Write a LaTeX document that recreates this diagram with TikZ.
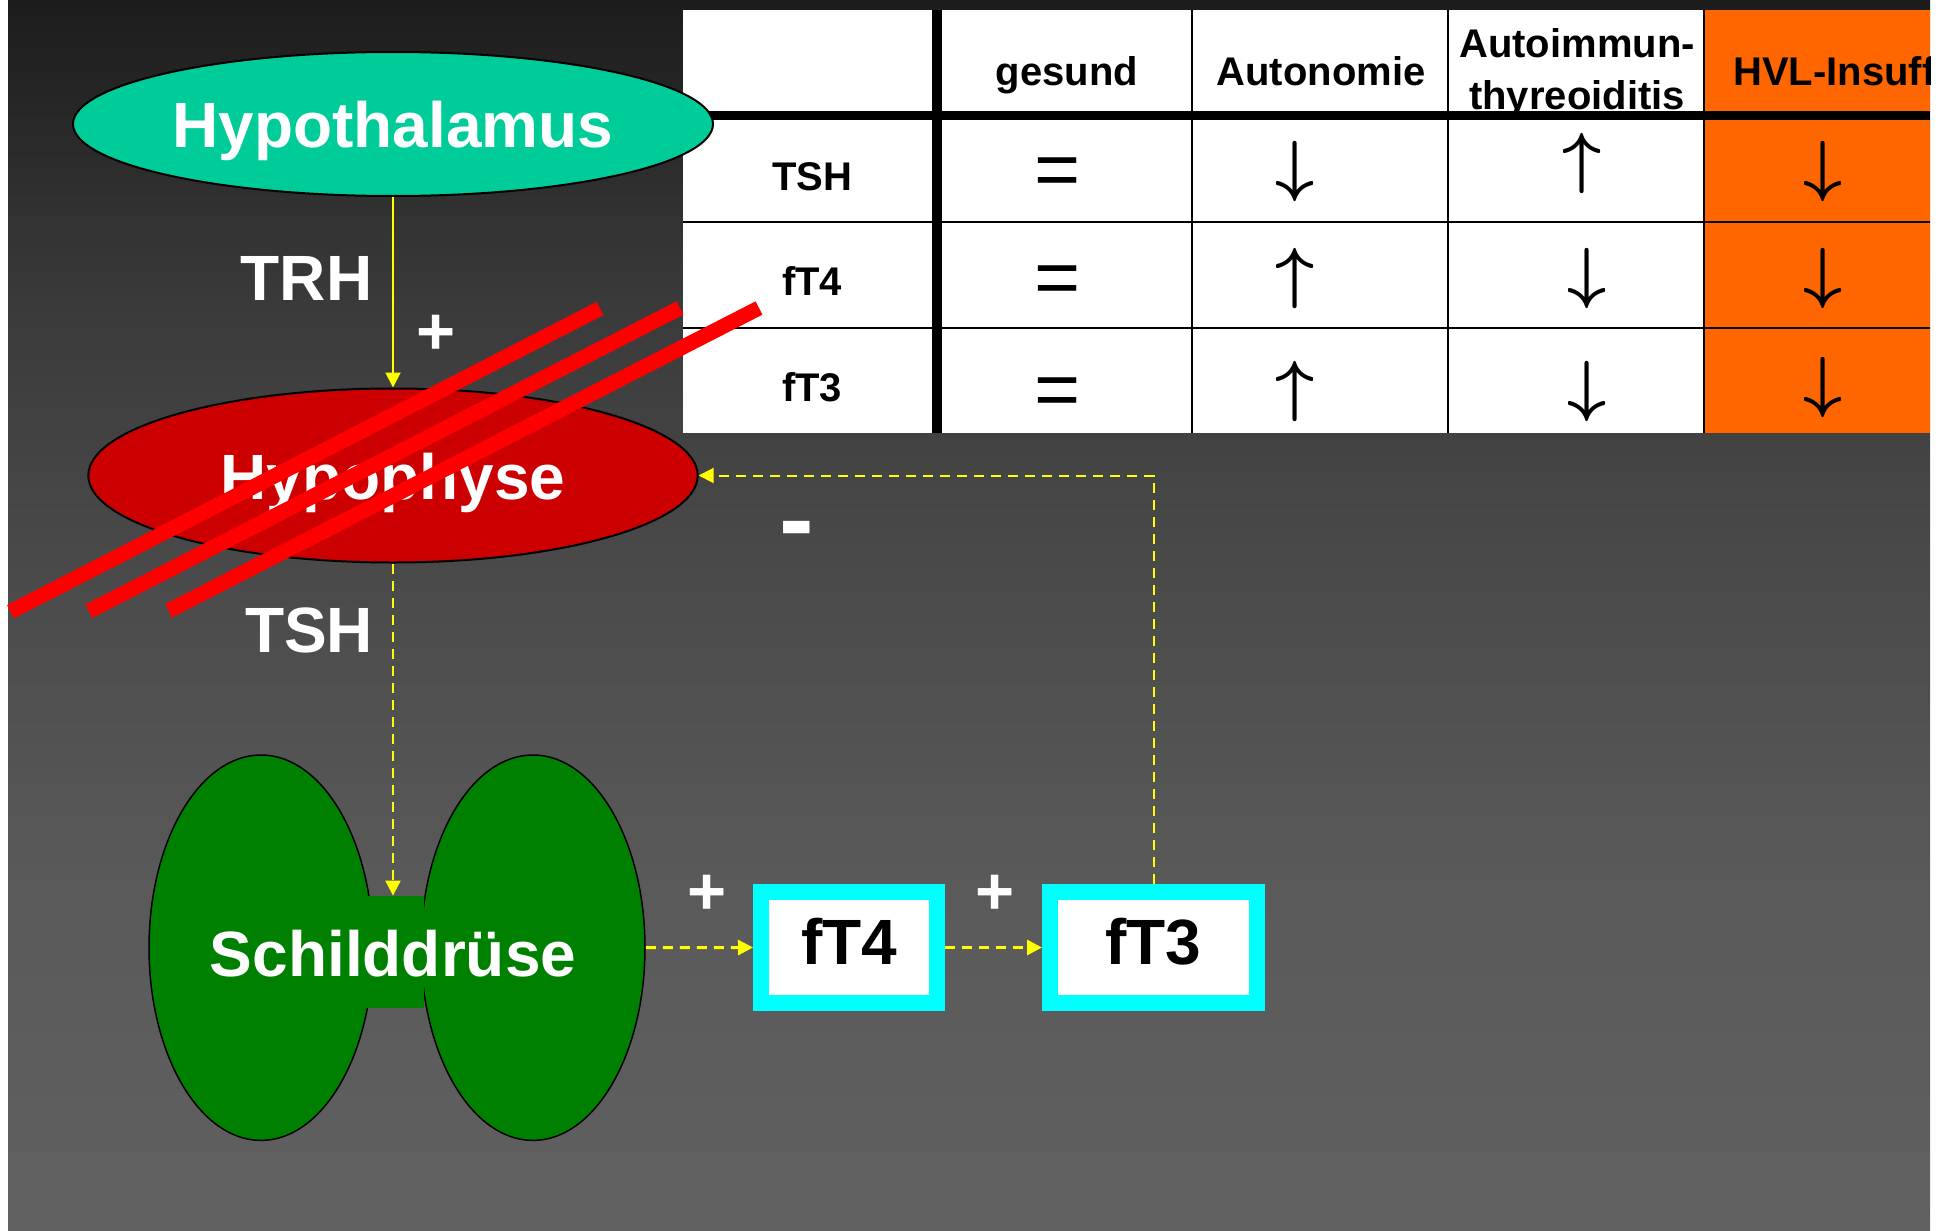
\documentclass[tikz,border=0pt]{standalone}
\usepackage{fontspec}
\setmainfont{Liberation Sans}
\usetikzlibrary{arrows.meta,shapes.geometric}
\definecolor{hypoth}{HTML}{00CC99}
\definecolor{hypoph}{HTML}{CC0000}
\definecolor{thygreen}{HTML}{008000}
\definecolor{boxcyan}{HTML}{00FFFF}
\definecolor{hvlorange}{HTML}{FF6600}
\definecolor{sigyellow}{HTML}{FFFF00}
\definecolor{strikered}{HTML}{FF0000}
\pgfdeclareverticalshading{bgshade}{100bp}{rgb(0bp)=(0.376,0.376,0.376); rgb(25bp)=(0.376,0.376,0.376); rgb(38.85bp)=(0.353,0.353,0.353); rgb(55.5bp)=(0.271,0.271,0.271); rgb(62.8bp)=(0.227,0.227,0.227); rgb(75bp)=(0.11,0.11,0.11); rgb(100bp)=(0.11,0.11,0.11)}
\tikzset{
  organ/.style={ellipse, draw=black, line width=1pt, inner sep=0pt},
  lobe/.style={ellipse, draw=black, line width=0.75pt, fill=thygreen, inner sep=0pt, minimum width=112pt, minimum height=192.7pt},
  bigtext/.style={text=white, font=\bfseries\fontsize{32}{36}\selectfont, anchor=base, inner sep=0pt},
  sign/.style={text=white, font=\bfseries\fontsize{33.5}{36}\selectfont, anchor=base, inner sep=0pt},
  hormbox/.style={draw=boxcyan, fill=white, line width=8pt, inner sep=0pt, minimum height=55.5pt},
  boxtext/.style={text=black, font=\bfseries\fontsize{32}{36}\selectfont, anchor=base, inner sep=0pt},
  tabtext/.style={text=black, font=\bfseries\fontsize{20}{22}\selectfont, anchor=base, inner sep=0pt},
  eqsign/.style={text=black, font=\fontsize{39.5}{40}\selectfont, anchor=base, inner sep=0pt},
  trend/.style={text=black, font=\boldmath, scale=3.4, transform shape, inner sep=0pt, anchor=center},
  solidsig/.style={draw=sigyellow, line width=1pt, -{Triangle[length=7.5pt,width=7.5pt]}},
  dashsig/.style={draw=sigyellow, line width=1pt, dash pattern=on 5pt off 3.5pt, -{Triangle[length=7.5pt,width=7.5pt]}},
  dashsigthick/.style={dashsig, line width=1.5pt},
  strike/.style={draw=strikered, line width=7.5pt, line cap=butt},
  thinrule/.style={draw=black, line width=0.8pt},
}
\begin{document}
\begin{tikzpicture}[x=0.5pt,y=-0.5pt]
\useasboundingbox (0,0) rectangle (1950,1231);
\fill[white] (0,0) rectangle (1950,1231);
\shade[shading=bgshade] (8,0) rectangle (1930,1231);

% ---------- table ----------
\fill[white] (683,10) rectangle (1704,433);
\fill[hvlorange] (1704,10) rectangle (1930,433);
\begin{scope}
\clip (683,10) rectangle (1930,433);
\node[tabtext] (hgesund) at (1067,85) {gesund};
\node[tabtext] (hauto) at (1321,85) {Autonomie};
\node[tabtext] (haim1) at (1577,57.5) {Autoimmun-};
\node[tabtext] (haim2) at (1577,109.5) {thyreoiditis};
\node[tabtext, anchor=base west] (hhvl) at (1733,85) {HVL-Insuff};
\end{scope}
\draw[thinrule] (1192,10) -- (1192,433);
\draw[thinrule] (1448,10) -- (1448,433);
\draw[thinrule] (1704,10) -- (1704,433);
\draw[thinrule] (683,222) -- (1930,222);
\draw[thinrule] (683,328) -- (1930,328);
\draw[draw=black, line width=4.5pt] (683,115.5) -- (1930,115.5);
\draw[draw=black, line width=5pt] (937,10) -- (937,433);

\node[tabtext] (rtsh) at (812,190) {TSH};
\node[tabtext] (rft4) at (812,295) {fT4};
\node[tabtext] (rft3) at (812,401.7) {fT3};

\node[eqsign] (eq1) at (1057.6,196.5) {=};
\node[eqsign] (eq2) at (1057.6,304.5) {=};
\node[eqsign] (eq3) at (1057.6,416) {=};

\node[trend] (a11) at (1295,171) {$\downarrow$};
\node[trend] (a12) at (1582.5,163) {$\uparrow$};
\node[trend] (a13) at (1823,171) {$\downarrow$};
\node[trend] (a21) at (1295,278) {$\uparrow$};
\node[trend] (a22) at (1586.6,278) {$\downarrow$};
\node[trend] (a23) at (1823,278) {$\downarrow$};
\node[trend] (a31) at (1295,391) {$\uparrow$};
\node[trend] (a32) at (1586.6,391) {$\downarrow$};
\node[trend] (a33) at (1823,387) {$\downarrow$};

% ---------- organs ----------
\node[organ, fill=hypoth, minimum width=320pt, minimum height=72pt] (hypoth) at (393,124) {};
\node[bigtext] (thypoth) at (393,147) {Hypothalamus};
\node[organ, fill=hypoph, minimum width=304.7pt, minimum height=87pt] (hyp) at (393,475.5) {};
\node[bigtext] (thyp) at (393,499) {Hypophyse};

\node[lobe] (lobeL) at (261,947.7) {};
\node[lobe] (lobeR) at (533,947.7) {};
\node[fill=thygreen, inner sep=0pt, minimum width=29pt, minimum height=56pt] (isth) at (395,952) {};
\node[bigtext] (tthy) at (393,976) {Schilddrüse};

\node[bigtext] (ltrh) at (306.5,300) {TRH};
\node[bigtext] (ltsh) at (309,652) {TSH};

\node[hormbox, minimum width=88pt] (ft4) at (849,947.5) {};
\node[boxtext] (tft4) at (849,964) {fT4};
\node[hormbox, minimum width=103.5pt] (ft3) at (1153.5,947.5) {};
\node[boxtext] (tft3) at (1153.5,964) {fT3};

\node[sign] (p1) at (436,354) {+};
\node[sign] (p2) at (706.7,914) {+};
\node[sign] (p3) at (995,914) {+};
\node[sign, font=\bfseries\fontsize{52}{56}\selectfont] (m1) at (796.5,554.5) {-};

% ---------- connectors ----------
\draw[solidsig] (hypoth.south) -- (hyp.north);
\draw[dashsig] (hyp.south) -- (hyp.south |- isth.north);
\draw[dashsigthick] (lobeR.east) -- (ft4.west);
\draw[dashsigthick] (ft4.east) -- (ft3.west);
\draw[dashsig] (ft3.north) |- (hyp.east);

% ---------- strike-through ----------
\draw[strike] (10.5,611.7) -- (600,308.5);
\draw[strike] (88.8,611.2) -- (680,308);
\draw[strike] (168.7,610.8) -- (759,308);
\end{tikzpicture}
\end{document}
